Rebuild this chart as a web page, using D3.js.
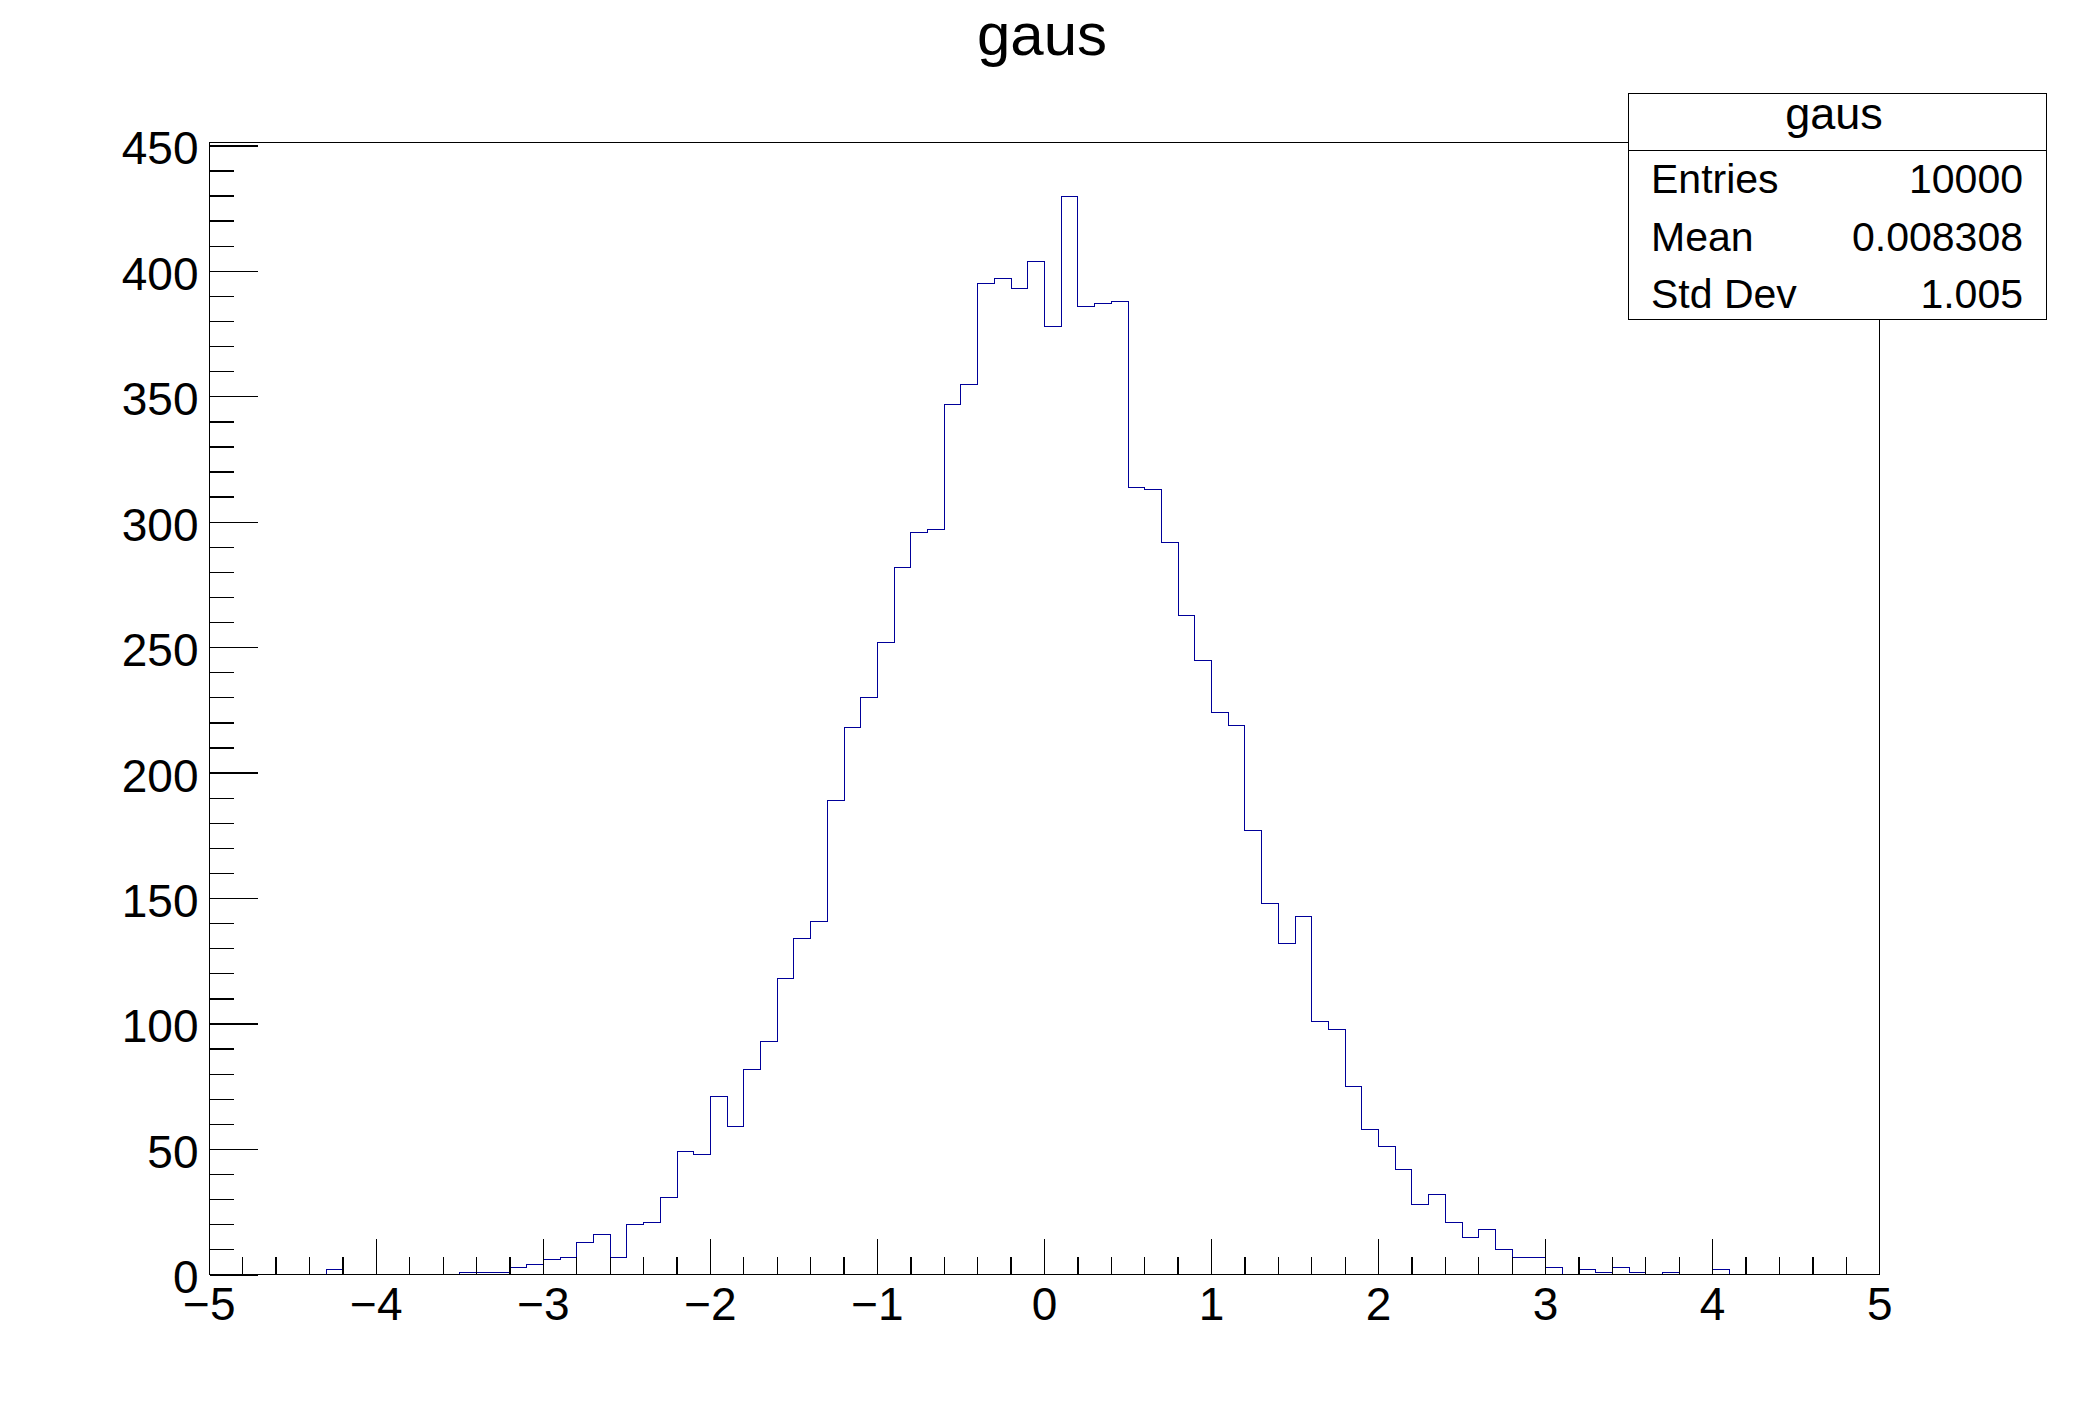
<!DOCTYPE html>
<html>
<head>
<meta charset="utf-8">
<script src="https://cdn.jsdelivr.net/npm/d3@7"></script>
<style>
  html, body { margin: 0; padding: 0; background: #ffffff; }
  svg { display: block; }
  text { font-family: "Liberation Sans", Arial, Helvetica, sans-serif; fill: #000; }
</style>
</head>
<body>
<svg id="chart" width="2088" height="1416"></svg>
<script>
// ---------------- data ----------------
const titleText = "gaus";
const xMin = -5;
const xMax = 5;
const binWidth = 0.1;
// 100 bin contents, bins from -5.0 to 5.0 (width 0.1)
const counts = [
  0, 0, 0, 0, 0, 0, 0, 2, 0, 0,
  0, 0, 0, 0, 0, 1, 1, 1, 3, 4,
  6, 7, 13, 16, 7, 20, 21, 31, 49, 48,
  71, 59, 82, 93, 118, 134, 141, 189, 218, 230,
  252, 282, 296, 297, 347, 355, 395, 397, 393, 404,
  378, 430, 386, 387, 388, 314, 313, 292, 263, 245,
  224, 219, 177, 148, 132, 143, 101, 98, 75, 58,
  51, 42, 28, 32, 21, 15, 18, 10, 7, 7,
  3, 0, 2, 1, 3, 1, 0, 1, 0, 0,
  2, 0, 0, 0, 0, 0, 0, 0, 0, 0
];
const xMajorTicks = [-5, -4, -3, -2, -1, 0, 1, 2, 3, 4, 5];
const yMajorTicks = [0, 50, 100, 150, 200, 250, 300, 350, 400, 450];
const statsLabels = ["Entries", "Mean", "Std Dev"];
const statsValues = ["10000", "0.008308", "1.005"];

// ---------------- layout ----------------
const frame = { left: 208.8, right: 1879.2, top: 141.6, bottom: 1274.4 };
const yMax = 1.05 * d3.max(counts);

const svg = d3.select("#chart");

const x = d3.scaleLinear().domain([xMin, xMax]).range([frame.left, frame.right]);
const y = d3.scaleLinear().domain([0, yMax]).range([frame.bottom, frame.top]);

// histogram outline as step path
const pts = [];
pts.push([xMin, 0]);
counts.forEach((c, i) => {
  const lo = xMin + i * binWidth;
  const hi = xMin + (i + 1) * binWidth;
  pts.push([lo, c]);
  pts.push([hi, c]);
});
pts.push([xMax, 0]);

const line = d3.line().x(d => Math.round(x(d[0])) + 0.5).y(d => Math.round(y(d[1])) + 0.5);

svg.append("path")
  .attr("d", line(pts))
  .attr("fill", "none")
  .attr("stroke", "#000099")
  .attr("stroke-width", 1.3)
  .attr("shape-rendering", "crispEdges");

// frame
svg.append("rect")
  .attr("x", Math.round(frame.left) + 0.5)
  .attr("y", Math.round(frame.top) + 0.5)
  .attr("width", Math.round(frame.right) - Math.round(frame.left))
  .attr("height", Math.round(frame.bottom) - Math.round(frame.top))
  .attr("fill", "none")
  .attr("stroke", "#000")
  .attr("stroke-width", 1.3)
  .attr("shape-rendering", "crispEdges");

// x axis: minor ticks
const xMinor = [];
for (let i = 0; i < xMajorTicks.length - 1; i++) {
  for (let k = 1; k < 5; k++) xMinor.push(xMajorTicks[i] + k * 0.2);
}
const fmt = v => (v < 0 ? "\u2212" + Math.abs(v) : String(v));

const gxMinor = svg.append("g")
  .attr("transform", `translate(0,${Math.round(frame.bottom) + 0.5})`)
  .call(d3.axisBottom(x).tickValues(xMinor).tickSize(-18).tickSizeOuter(0).tickFormat(""));
const gx = svg.append("g")
  .attr("transform", `translate(0,${Math.round(frame.bottom) + 0.5})`)
  .call(d3.axisBottom(x).tickValues(xMajorTicks).tickSize(-36).tickSizeOuter(0).tickPadding(13).tickFormat(fmt));

// y axis: minor ticks
const yMinor = [];
for (let v = 0; v <= yMax; v += 10) { if (v % 50 !== 0) yMinor.push(v); }
const gyMinor = svg.append("g")
  .attr("transform", `translate(${Math.round(frame.left) + 0.5},0)`)
  .call(d3.axisLeft(y).tickValues(yMinor).tickSize(-24).tickSizeOuter(0).tickFormat(""));
const gy = svg.append("g")
  .attr("transform", `translate(${Math.round(frame.left) + 0.5},0)`)
  .call(d3.axisLeft(y).tickValues(yMajorTicks).tickSize(-48).tickSizeOuter(0).tickPadding(11).tickFormat(d => String(d)));

[gxMinor, gx, gyMinor, gy].forEach(g => {
  g.select(".domain").remove();
  g.selectAll("line").attr("stroke", "#000").attr("stroke-width", 1.3).attr("shape-rendering", "crispEdges");
  g.selectAll("text").attr("font-size", 46).attr("font-family", "Liberation Sans, Arial, sans-serif").attr("fill", "#000");
});
gy.selectAll("text").attr("dy", "0.4em");

// title
svg.append("text")
  .attr("x", 1042)
  .attr("y", 55)
  .attr("text-anchor", "middle")
  .attr("font-size", 60)
  .text(titleText);

// stats box
const box = { left: 1628.4, right: 2046, top: 93, bottom: 318.6, split: 150 };
svg.append("rect")
  .attr("x", Math.round(box.left) + 0.5)
  .attr("y", Math.round(box.top) + 0.5)
  .attr("width", Math.round(box.right) - Math.round(box.left))
  .attr("height", Math.round(box.bottom) - Math.round(box.top))
  .attr("fill", "#fff")
  .attr("stroke", "#000")
  .attr("stroke-width", 1.3)
  .attr("shape-rendering", "crispEdges");
svg.append("line")
  .attr("x1", Math.round(box.left) + 0.5)
  .attr("x2", Math.round(box.right) + 0.5)
  .attr("y1", box.split + 0.5)
  .attr("y2", box.split + 0.5)
  .attr("stroke", "#000")
  .attr("stroke-width", 1.3)
  .attr("shape-rendering", "crispEdges");
svg.append("text")
  .attr("x", 1834)
  .attr("y", 129)
  .attr("text-anchor", "middle")
  .attr("font-size", 45)
  .text(titleText);
const rowBaselines = [193, 251, 308];
statsLabels.forEach((lab, i) => {
  svg.append("text")
    .attr("x", 1651)
    .attr("y", rowBaselines[i])
    .attr("font-size", 41)
    .text(lab);
  svg.append("text")
    .attr("x", 2023)
    .attr("y", rowBaselines[i])
    .attr("text-anchor", "end")
    .attr("font-size", 41)
    .text(statsValues[i]);
});
</script>
</body>
</html>
